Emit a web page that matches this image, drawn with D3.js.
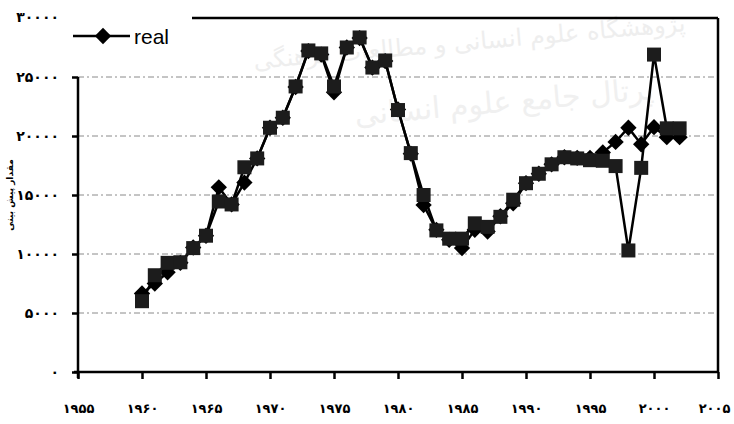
<!DOCTYPE html>
<html><head><meta charset="utf-8">
<script src="https://cdn.jsdelivr.net/npm/d3@7"></script>
<style>body{margin:0;background:#fff}svg{display:block}</style>
</head><body>
<svg id="c" width="734" height="424"></svg>
<script>
const years = d3.range(1960, 2003);
const real = [6650,7500,8450,9250,10550,11550,15650,14200,16050,18100,20700,21550,24150,27200,26900,23700,27500,28300,25800,26350,22250,18500,14150,12050,11200,10500,12050,11900,13200,14300,16000,16800,17600,18200,18150,18150,18600,19500,20700,19300,20750,19900,19900];
const predicted = [6000,8200,9250,9300,10500,11550,14450,14200,17350,18100,20700,21550,24200,27250,27000,24200,27500,28350,25800,26400,22200,18550,15000,12000,11300,11300,12600,12300,13150,14600,16000,16800,17600,18200,18100,17950,17900,17450,10300,17300,26900,20650,20650];
const yTicks = [0,5000,10000,15000,20000,25000,30000];
const xTicks = [1955,1960,1965,1970,1975,1980,1985,1990,1995,2000,2005];
const legendLabel = "real";
const yTitle = "مقدار پیش بینی";
const watermark1 = "پژوهشگاه علوم انسانی و مطالعات فرهنگی";
const watermark2 = "پرتال جامع علوم انسانی";

const fa = n => String(n).replace(/\d/g, d => "۰۱۲۳۴۵۶۷۸۹"[d]);

const svg = d3.select("#c");
const x = d3.scaleLinear().domain([1955, 2005]).range([78, 718]);
const y = d3.scaleLinear().domain([0, 30000]).range([372, 18]);

// watermark
svg.append("text").attr("x", 470).attr("y", 50).attr("text-anchor","middle")
  .attr("font-family","DejaVu Sans").attr("font-size",24).attr("fill","#eeeeee")
  .attr("transform","rotate(-5,470,50)").text(watermark1);
svg.append("text").attr("x", 505).attr("y", 112).attr("text-anchor","middle")
  .attr("font-family","DejaVu Sans").attr("font-size",30).attr("fill","#f0f0f0")
  .attr("transform","rotate(-5,505,112)").text(watermark2);

// gridlines
svg.append("g").selectAll("line").data(yTicks.filter(t => t > 0 && t < 30000)).join("line")
  .attr("x1", x(1955)).attr("x2", x(2005)).attr("y1", d => y(d)).attr("y2", d => y(d))
  .attr("stroke", "#8a8a8a").attr("stroke-width", 1).attr("stroke-dasharray", "6,3,2,3");

// legend background (covers top-left of frame)
svg.append("rect").attr("x", 62).attr("y", 10).attr("width", 130).attr("height", 64).attr("fill", "#fff");

// frame: top + right
svg.append("line").attr("x1", 192).attr("x2", x(2005)).attr("y1", y(30000)).attr("y2", y(30000))
  .attr("stroke","#000").attr("stroke-width",2.5);
svg.append("line").attr("x1", x(2005)).attr("x2", x(2005)).attr("y1", y(30000)).attr("y2", y(0))
  .attr("stroke","#000").attr("stroke-width",2.5);

// y axis
const yAxis = d3.axisLeft(y).tickValues(yTicks.filter(t => t < 30000)).tickSize(6).tickFormat(fa);
const gy = svg.append("g").attr("transform", `translate(${x(1955)},0)`).call(yAxis);
gy.select(".domain").attr("d", `M0,${y(25000)}V${y(0)+6}`).attr("stroke-width", 2.5);
gy.selectAll(".tick line").attr("stroke-width", 2.5);
gy.selectAll(".tick text").attr("x", -19).attr("font-family","DejaVu Sans").attr("font-weight","bold").attr("font-size",14);
svg.append("text").attr("x", 59).attr("y", y(30000)).attr("dy","0.32em").attr("text-anchor","end")
  .attr("font-family","DejaVu Sans").attr("font-weight","bold").attr("font-size",14).text(fa(30000));

// x axis
const xAxis = d3.axisBottom(x).tickValues(xTicks).tickSize(7).tickFormat(fa);
const gx = svg.append("g").attr("transform", `translate(0,${y(0)})`).call(xAxis);
gx.select(".domain").attr("d", `M${x(1955)-4},0H${x(2005)}`).attr("stroke-width", 2.5);
gx.selectAll(".tick line").attr("stroke-width", 2.5);
gx.selectAll(".tick text").attr("y", 32).attr("font-family","DejaVu Sans").attr("font-weight","bold").attr("font-size",13)
  .attr("dx", d => d === 2005 ? -4 : 0);

// y title
svg.append("text").attr("transform", `translate(13,195) rotate(-90)`).attr("text-anchor","middle")
  .attr("font-family","DejaVu Sans").attr("font-weight","bold").attr("font-size",9).text(yTitle);

const line = d3.line().x((d,i) => x(years[i])).y(d => y(d));
const diamond = d3.symbol().type(d3.symbolDiamond2).size(170);

// real series
svg.append("path").datum(real).attr("d", line).attr("fill","none").attr("stroke","#000").attr("stroke-width",2.5);
svg.append("g").selectAll("path").data(real).join("path")
  .attr("d", diamond).attr("transform", (d,i) => `translate(${x(years[i])},${y(d)})`).attr("fill","#000");

// predicted series
svg.append("path").datum(predicted).attr("d", line).attr("fill","none").attr("stroke","#000").attr("stroke-width",2.5);
svg.append("g").selectAll("rect").data(predicted).join("rect")
  .attr("x", (d,i) => x(years[i]) - 7).attr("y", d => y(d) - 7).attr("width", 14).attr("height", 14)
  .attr("fill", "#1c1c1c");

// legend
svg.append("line").attr("x1", 73).attr("x2", 130).attr("y1", 36).attr("y2", 36).attr("stroke","#000").attr("stroke-width",2.5);
svg.append("path").attr("d", diamond).attr("transform","translate(103,36)").attr("fill","#000");
svg.append("text").attr("x", 134).attr("y", 44).attr("font-family","Liberation Sans, Arial").attr("font-size",21).text(legendLabel);
</script>
</body></html>
